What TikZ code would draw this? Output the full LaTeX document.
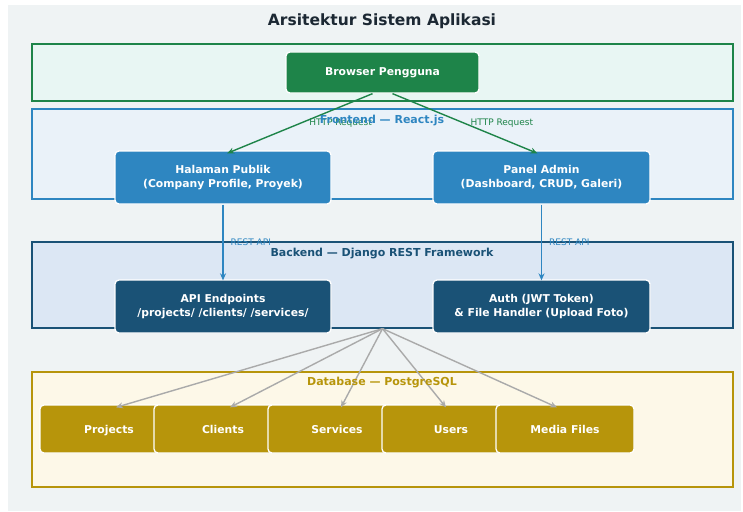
\documentclass[tikz,border=0pt]{standalone}
\usepackage{fontspec}
\setmainfont{DejaVu Sans}
\usetikzlibrary{arrows.meta,calc}
\definecolor{bgc}{HTML}{EFF3F4}
\definecolor{titlec}{HTML}{1C2833}
\definecolor{greenc}{HTML}{1E8449}
\definecolor{greenl}{HTML}{E8F6F3}
\definecolor{bluec}{HTML}{2E86C1}
\definecolor{bluel}{HTML}{EAF2F9}
\definecolor{navyc}{HTML}{1A5276}
\definecolor{navyl}{HTML}{DCE7F4}
\definecolor{goldc}{HTML}{B7950B}
\definecolor{goldl}{HTML}{FDF8E8}
\definecolor{grayc}{HTML}{AAAAAA}
\tikzset{
  layerbox/.style={draw=#1, line width=1.3pt, inner sep=0pt},
  layerlabel/.style={text=#1, font=\fontsize{11}{13}\selectfont\bfseries},
  compbox/.style={fill=#1, draw=white, line width=1.3pt, rounded corners=4pt, text=white,
    align=center, font=\fontsize{10.8}{14}\selectfont\bfseries, inner sep=0pt},
  dbbox/.style={compbox=goldc, minimum width=138pt, minimum height=48pt, text height=8pt, text depth=0pt},
  edgelabel/.style={font=\fontsize{9}{11}\selectfont, text=#1, anchor=west, inner sep=0pt},
  flow/.style={draw=#1, line width=1.4pt, -{Stealth[length=7pt,width=6pt]}},
}
\begin{document}
\begin{tikzpicture}[x=1pt,y=-1pt]
\useasboundingbox (0,0) rectangle (743,511);
\fill[bgc] (8,5) rectangle (741,511);
\node[font=\fontsize{15.5}{18}\selectfont\bfseries, text=titlec] (title) at (382,21) {Arsitektur Sistem Aplikasi};

% layers
\node[layerbox=greenc, fill=greenl, minimum width=701pt, minimum height=57pt] (lbrowser) at (382.5,72.5) {};
\node[layerbox=bluec, fill=bluel, minimum width=701pt, minimum height=90pt] (lfront) at (382.5,154) {};
\node[layerbox=navyc, fill=navyl, minimum width=701pt, minimum height=86pt] (lback) at (382.5,285) {};
\node[layerbox=goldc, fill=goldl, minimum width=701pt, minimum height=115pt] (ldb) at (382.5,429.5) {};

% components
\node[compbox=greenc, minimum width=193pt, minimum height=41pt] (browser) at (382.5,72.5) {Browser Pengguna};
\node[compbox=bluec, minimum width=216pt, minimum height=53pt] (publik) at (223,177.5) {Halaman Publik\\(Company Profile, Proyek)};
\node[compbox=bluec, minimum width=217pt, minimum height=53pt] (admin) at (541.5,177.5) {Panel Admin\\(Dashboard, CRUD, Galeri)};
\node[compbox=navyc, minimum width=216pt, minimum height=53pt] (api) at (223,306.5) {API Endpoints\\/projects/ /clients/ /services/};
\node[compbox=navyc, minimum width=217pt, minimum height=53pt] (auth) at (541.5,306.5) {Auth (JWT Token)\\\& File Handler (Upload Foto)};

\node[dbbox] (proj) at (109,429) {Projects};
\node[dbbox] (cli) at (223,429) {Clients};
\node[dbbox] (serv) at (337,429) {Services};
\node[dbbox] (usr) at (451,429) {Users};
\node[dbbox] (media) at (565,429) {Media Files};

% connectors
\draw[flow=greenc] ($(browser.south)+(-10,0)$) -- node[edgelabel=greenc, xshift=9pt, yshift=0pt, pos=0.5]{HTTP Request} ($(publik.north)+(4,3)$);
\draw[flow=greenc] ($(browser.south)+(10,0)$) -- node[edgelabel=greenc, xshift=5pt, yshift=0pt, pos=0.5]{HTTP Request} ($(admin.north)+(-4,3)$);
\draw[flow=bluec] (publik.south) -- node[edgelabel=bluec, xshift=7pt]{REST API} ($(api.north)+(0,1)$);
\draw[flow=bluec] (admin.south) -- node[edgelabel=bluec, xshift=7pt]{REST API} ($(auth.north)+(0,1)$);

\coordinate (hub) at (lback.south);
\draw[flow=grayc] (hub) -- ($(proj.north)+(7,3)$);
\draw[flow=grayc] (hub) -- ($(cli.north)+(7,3)$);
\draw[flow=grayc] (hub) -- ($(serv.north)+(4,3)$);
\draw[flow=grayc] (hub) -- ($(usr.north)+(-5,3)$);
\draw[flow=grayc] (hub) -- ($(media.north)+(-8,3)$);

% layer labels
\node[layerlabel=bluec] (tfront) at (382,121) {Frontend — React.js};
\node[layerlabel=navyc] (tback) at (382,254) {Backend — Django REST Framework};
\node[layerlabel=goldc] (tdb) at (382,383) {Database — PostgreSQL};
\end{tikzpicture}
\end{document}
